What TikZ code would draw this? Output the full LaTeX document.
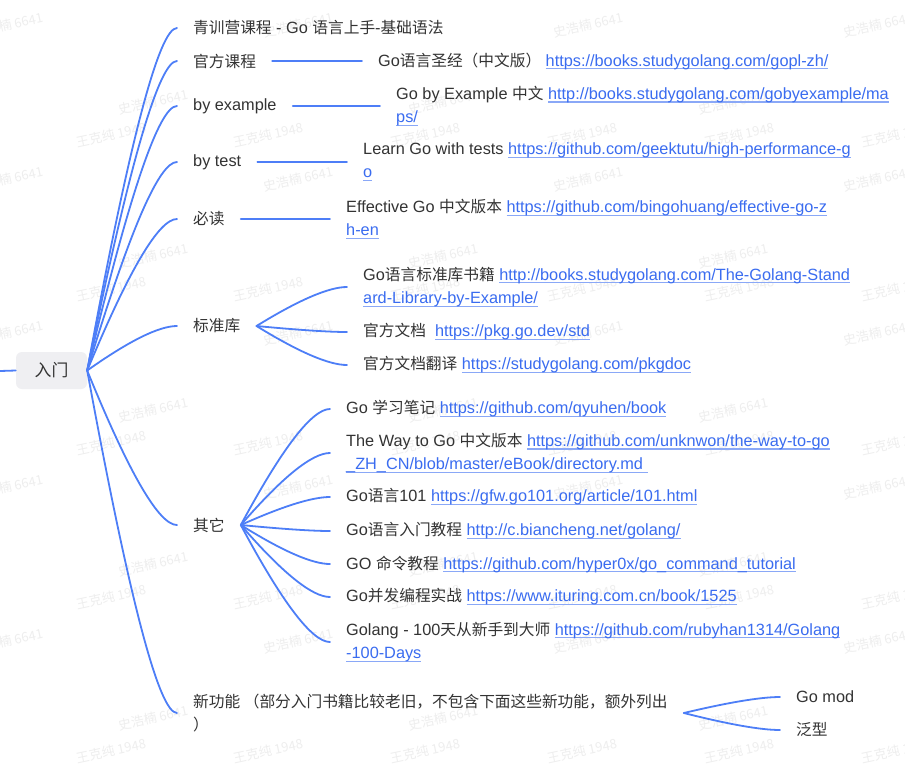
\documentclass[tikz,border=0pt]{standalone}
\usepackage{fontspec}
\setmainfont{Liberation Sans}
\newfontfamily\cjkf[Scale=0.963]{Noto Sans CJK SC}
\newfontfamily\wmf{Noto Sans CJK SC}
\usetikzlibrary{calc}
\definecolor{linec}{HTML}{4D7EF7}
\definecolor{linkc}{HTML}{3A6CF0}
\definecolor{ulc}{HTML}{8AA8F7}
\definecolor{textc}{HTML}{333333}
\definecolor{rootfill}{HTML}{EFEFF2}
\definecolor{wmc}{HTML}{EEEEEE}
\newcommand\zh[1]{{\cjkf #1}}
\newcommand\lnk[1]{\setbox0\hbox{\color{linkc}#1}\leavevmode\rlap{\color{ulc}\rule[-3.2pt]{\wd0}{1.1pt}}\box0}
\tikzset{
  conn/.style={draw=linec, line width=1.8pt, line cap=round},
  mm/.style={to path={let \p1=(\tikztostart), \p2=(\tikztotarget) in
    .. controls ({\x1+0.4667*(\x2-\x1)},{\y1+0.6667*(\y2-\y1)}) and ({\x2-0.2*(\x2-\x1)},{\y2}) .. (\tikztotarget) \tikztonodes}},
  topic/.style={anchor=west, inner xsep=16pt, inner ysep=2pt, align=left, text=textc, font=\fontsize{16.3}{23.3}\selectfont},
  rootbox/.style={fill=rootfill, rounded corners=6pt, minimum width=71pt, minimum height=37pt, inner sep=0pt, text=textc, font=\fontsize{17.5}{20}\selectfont},
  wm/.style={text=wmc, rotate=12, font=\wmf\fontsize{13}{15}\selectfont, inner sep=0pt},
}
\begin{document}
\begin{tikzpicture}[x=1pt,y=-1pt]
\useasboundingbox (0,0) rectangle (905,764);
\fill[white] (0,0) rectangle (905,764);
% watermarks
\foreach \i in {0,...,6}{
  \foreach \k in {0,...,4}{
    \pgfmathsetmacro\wx{8+145*\i}
    \pgfmathsetmacro\wy{25+77*mod(\i,2)+154*\k}
    \node[wm] (wa-\i-\k) at (\wx,\wy) {史浩楠 6641};
  }
}
\foreach \j in {0,...,5}{
  \foreach \k in {0,...,4}{
    \pgfmathsetmacro\wx{111+157*\j}
    \pgfmathsetmacro\wy{135+154*\k}
    \node[wm] (wb-\j-\k) at (\wx,\wy) {王克纯 1948};
  }
}
% root
\coordinate (in) at (0,371);
\node[rootbox] (root) at (51.5,370.5) {\zh{入门}};
% level 1
\node[topic] (l1) at (177,28) {\zh{青训营课程} - Go \zh{语言上手}-\zh{基础语法}};
\node[topic] (l2) at (177,61) {\zh{官方课程}};
\node[topic] (l3) at (177,106) {by example};
\node[topic] (l4) at (177,162) {by test};
\node[topic] (l5) at (177,219) {\zh{必读}};
\node[topic] (l6) at (177,326) {\zh{标准库}};
\node[topic] (l7) at (177,525) {\zh{其它}};
\node[topic] (l8) at (177,713) {\zh{新功能 （部分入门书籍比较老旧，不包含下面这些新功能，额外列出}\\\zh{）}};
% children
\node[topic] (c2) at (362,61) {Go\zh{语言圣经（中文版）} \lnk{https://books.studygolang.com/gopl-zh/}};
\node[topic] (c3) at (380,106) {Go by Example \zh{中文} \lnk{http://books.studygolang.com/gobyexample/ma}\\\lnk{ps/}};
\node[topic] (c4) at (347,162) {Learn Go with tests \lnk{https://github.com/geektutu/high-performance-g}\\\lnk{o}};
\node[topic] (c5) at (330,219) {Effective Go \zh{中文版本} \lnk{https://github.com/bingohuang/effective-go-z}\\\lnk{h-en}};
\node[topic] (s1) at (347,287) {Go\zh{语言标准库书籍} \lnk{http://books.studygolang.com/The-Golang-Stand}\\\lnk{ard-Library-by-Example/}};
\node[topic] (s2) at (347,332) {\zh{官方文档}\ \ \lnk{https://pkg.go.dev/std}};
\node[topic] (s3) at (347,365) {\zh{官方文档翻译} \lnk{https://studygolang.com/pkgdoc}};
\node[topic] (o1) at (330,409) {Go \zh{学习笔记} \lnk{https://github.com/qyuhen/book}};
\node[topic] (o2) at (330,453) {The Way to Go \zh{中文版本} \lnk{https://github.com/unknwon/the-way-to-go}\\\lnk{\_ZH\_CN/blob/master/eBook/directory.md\ }};
\node[topic] (o3) at (330,497) {Go\zh{语言}101 \lnk{https://gfw.go101.org/article/101.html}};
\node[topic] (o4) at (330,531) {Go\zh{语言入门教程} \lnk{http://c.biancheng.net/golang/}};
\node[topic] (o5) at (330,564) {GO \zh{命令教程} \lnk{https://github.com/hyper0x/go\_command\_tutorial}};
\node[topic] (o6) at (330,597) {Go\zh{并发编程实战} \lnk{https://www.ituring.com.cn/book/1525}};
\node[topic] (o7) at (330,642) {Golang - 100\zh{天从新手到大师} \lnk{https://github.com/rubyhan1314/Golang}\\\lnk{-100-Days}};
\node[topic] (n1) at (780,697) {Go mod};
\node[topic] (n2) at (780,730) {\zh{泛型}};
% connectors
\draw[conn] (in) -- (root.west);
\foreach \t in {l1,l2,l3,l4,l5,l6,l7,l8}{
  \draw[conn] (root.east) to[mm] (\t.west);
}
\draw[conn] (l2.east) -- (c2.west);
\draw[conn] (l3.east) -- (c3.west);
\draw[conn] (l4.east) -- (c4.west);
\draw[conn] (l5.east) -- (c5.west);
\foreach \t in {s1,s2,s3}{
  \draw[conn] (l6.east) to[mm] (\t.west);
}
\foreach \t in {o1,o2,o3,o4,o5,o6,o7}{
  \draw[conn] (l7.east) to[mm] (\t.west);
}
\foreach \t in {n1,n2}{
  \draw[conn] (l8.east) to[mm] (\t.west);
}
\end{tikzpicture}
\end{document}
